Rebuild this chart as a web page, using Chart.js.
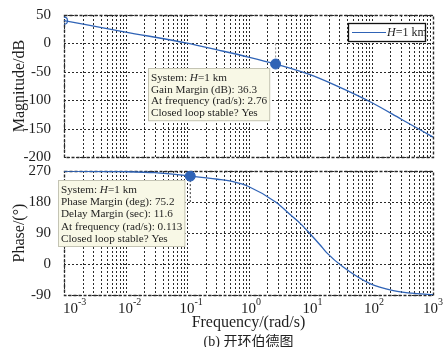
<!DOCTYPE html>
<html>
<head>
<meta charset="utf-8">
<script src="https://cdn.jsdelivr.net/npm/chart.js@4"></script>
<style>
  body { margin: 0; background: #fff; }
  #wrap { position: relative; width: 444px; height: 347px; }
  canvas { position: absolute; left: 0; }
  #magChart { top: 0; }
  #phaseChart { top: 165px; }
  #caption {
    position: absolute; left: 64px; width: 369px; top: 330px;
    text-align: center; font: 14px "Liberation Serif", "Noto Sans CJK SC", serif; color: #222;
  }
</style>
</head>
<body>
<div id="wrap">
  <canvas id="magChart" width="444" height="165"></canvas>
  <canvas id="phaseChart" width="444" height="182"></canvas>
  <div id="caption">(b) 开环伯德图</div>
</div>
<script>
// open-loop Bode data, H = 1 km
const magFreq = [0.001, 0.01, 0.1, 0.3, 1, 2.76, 10, 25, 100, 300, 1000];
const magDb = [40, 20, 0.5, -11, -24, -36.3, -55, -73, -104, -133, -165];

const phaseFreq = [0.001, 0.01, 0.03, 0.113, 0.316, 0.562, 1, 2.76, 5.01, 6.92, 10, 14.5, 18.6, 34.7, 94.4, 226, 543, 1000];
const phaseDeg = [269.5, 268, 265, 255.2, 246, 239, 225, 180, 140, 118, 88, 56, 33, -9, -57, -77, -86, -89];

const decades = [-3, -2, -1, 0, 1, 2, 3];
const magTicks = [-200, -150, -100, -50, 0, 50];
const phaseTicks = [-90, 0, 90, 180, 270];

const gainMargin = 36.3;
const gainFreq = 2.76;
const phaseMargin = 75.2;
const delayMargin = 11.6;
const pmFreq = 0.113;

const SERIF = '"Liberation Serif", "Times New Roman", serif';
const BLUE = '#2f63b6';

const pts = (xs, ys) => xs.map((x, i) => ({ x: x, y: ys[i] }));

// dotted grid + dashed frame
const gridLines = {
  id: 'gridLines',
  beforeDatasetsDraw(chart) {
    const { ctx, chartArea: a, scales: { x, y } } = chart;
    ctx.save();
    ctx.strokeStyle = '#2a2a2a';
    ctx.lineWidth = 1;
    const seg = (x1, y1, x2, y2) => { ctx.beginPath(); ctx.moveTo(x1, y1); ctx.lineTo(x2, y2); ctx.stroke(); };
    ctx.setLineDash([2, 2]);
    for (let d = -3; d < 3; d++) {
      for (let k = 1; k < 10; k++) {
        const px = Math.round(x.getPixelForValue(k * Math.pow(10, d))) + 0.5;
        seg(px, a.top, px, a.bottom);
      }
    }
    y.ticks.forEach(t => {
      const py = Math.round(y.getPixelForValue(t.value)) + 0.5;
      seg(a.left, py, a.right, py);
    });
    ctx.setLineDash([3, 2]);
    ctx.lineWidth = 1.4;
    ctx.strokeRect(Math.round(a.left) + 0.5, Math.round(a.top) + 0.5, Math.round(a.right - a.left), Math.round(a.bottom - a.top));
    ctx.restore();
  }
};

// MATLAB-style data tip box with mixed italic text
function drawTip(ctx, x, y, rows, fontSize, lineStep) {
  ctx.save();
  const font = fontSize + 'px ' + SERIF;
  const ifont = 'italic ' + fontSize + 'px ' + SERIF;
  let w = 0;
  rows.forEach(r => {
    let rw = 0;
    r.forEach(s => { ctx.font = s.i ? ifont : font; rw += ctx.measureText(s.t).width; });
    w = Math.max(w, rw);
  });
  const h = rows.length * lineStep + 6;
  ctx.fillStyle = '#f8f8e6';
  ctx.strokeStyle = '#c4c4b4';
  ctx.lineWidth = 1;
  ctx.setLineDash([]);
  ctx.fillRect(x, y, w + 6, h);
  ctx.strokeRect(x + 0.5, y + 0.5, w + 5, h - 1);
  ctx.fillStyle = '#1e1e1e';
  ctx.textBaseline = 'middle';
  rows.forEach((r, i) => {
    let cx = x + 3;
    const cy = y + 3 + lineStep * (i + 0.5) + 1;
    r.forEach(s => {
      ctx.font = s.i ? ifont : font;
      ctx.fillText(s.t, cx, cy);
      cx += ctx.measureText(s.t).width;
    });
  });
  ctx.restore();
}

const sysRow = [{ t: 'System: ' }, { t: 'H', i: true }, { t: '=1 km' }];

const magNotes = {
  id: 'magNotes',
  afterDraw(chart) {
    const { ctx } = chart;
    drawTip(ctx, 148, 68, [
      sysRow,
      [{ t: 'Gain Margin (dB): ' + gainMargin }],
      [{ t: 'At frequency (rad/s): ' + gainFreq }],
      [{ t: 'Closed loop stable? Yes' }]
    ], 11.2, 11.8);

    // legend
    ctx.save();
    ctx.fillStyle = '#fff';
    ctx.fillRect(348, 23, 78, 19);
    ctx.strokeStyle = '#111';
    ctx.lineWidth = 1.3;
    ctx.strokeRect(348.5, 23.5, 77, 18);
    ctx.strokeStyle = BLUE;
    ctx.lineWidth = 1.2;
    ctx.beginPath(); ctx.moveTo(352, 32.5); ctx.lineTo(386, 32.5); ctx.stroke();
    ctx.fillStyle = '#1e1e1e';
    ctx.textBaseline = 'middle';
    ctx.font = 'italic 12px ' + SERIF;
    ctx.fillText('H', 387, 33);
    const hw = ctx.measureText('H').width;
    ctx.font = '12px ' + SERIF;
    ctx.fillText('=1 km', 387 + hw, 33);
    ctx.restore();
  }
};

const phaseNotes = {
  id: 'phaseNotes',
  afterDraw(chart) {
    const { ctx, scales: { x } } = chart;
    drawTip(ctx, 58, 15, [
      sysRow,
      [{ t: 'Phase Margin (deg): ' + phaseMargin }],
      [{ t: 'Delay Margin (sec): ' + delayMargin }],
      [{ t: 'At frequency (rad/s): ' + pmFreq }],
      [{ t: 'Closed loop stable? Yes' }]
    ], 11.2, 12.2);

    // decade tick labels with superscript exponents
    ctx.save();
    ctx.fillStyle = '#1e1e1e';
    ctx.textBaseline = 'alphabetic';
    decades.forEach((d, i) => {
      const px = x.getPixelForValue(Math.pow(10, d));
      ctx.font = '15px ' + SERIF;
      const bw = ctx.measureText('10').width;
      ctx.font = '10px ' + SERIF;
      const ew = ctx.measureText(String(d)).width;
      let left = px - bw / 2;
      if (i === 0) left = px - 1;
      if (i === decades.length - 1) left = Math.min(left, 443 - bw - ew);
      ctx.font = '15px ' + SERIF;
      ctx.fillText('10', left, 148);
      ctx.font = '10px ' + SERIF;
      ctx.fillText(String(d), left + bw, 140);
    });
    ctx.restore();
  }
};

const yAxis = (min, max, step, title) => ({
  min: min, max: max,
  afterFit(s) { s.width = 64; s.paddingTop = 0; s.paddingBottom = 0; },
  grid: { display: false },
  border: { display: false },
  ticks: { stepSize: step, padding: 5, color: '#1e1e1e', font: { family: SERIF, size: 15 } },
  title: { display: true, text: title, color: '#1e1e1e', font: { family: SERIF, size: 16 }, padding: { top: 10, bottom: 0 } }
});

new Chart(document.getElementById('magChart'), {
  type: 'scatter',
  data: {
    datasets: [
      {
        data: [{ x: gainFreq, y: -gainMargin }],
        pointRadius: 5, pointBackgroundColor: BLUE, pointBorderColor: BLUE
      },
      {
        data: [{ x: magFreq[0], y: magDb[0] }],
        pointRadius: 3.5, pointBackgroundColor: 'rgba(0,0,0,0)', pointBorderColor: BLUE, pointBorderWidth: 1.2
      },
      {
        data: pts(magFreq, magDb),
        showLine: true, pointRadius: 0, borderColor: BLUE, borderWidth: 1.3,
        cubicInterpolationMode: 'monotone'
      },
      {
        data: [{ x: gainFreq, y: 0 }, { x: gainFreq, y: -gainMargin }],
        showLine: true, pointRadius: 0, borderColor: '#8a8a8a', borderWidth: 1, borderDash: [2, 2]
      }
    ]
  },
  options: {
    responsive: false,
    animation: false,
    devicePixelRatio: 1,
    layout: { padding: { top: 15, right: 11, bottom: 8, left: 0 } },
    plugins: { legend: { display: false }, tooltip: { enabled: false } },
    scales: {
      x: { type: 'logarithmic', min: 0.001, max: 1000, display: false },
      y: yAxis(magTicks[0], magTicks[magTicks.length - 1], 50, 'Magnitude/dB')
    }
  },
  plugins: [gridLines, magNotes]
});

new Chart(document.getElementById('phaseChart'), {
  type: 'scatter',
  data: {
    datasets: [
      {
        data: [{ x: pmFreq, y: 180 + phaseMargin }],
        pointRadius: 5, pointBackgroundColor: BLUE, pointBorderColor: BLUE
      },
      {
        data: pts(phaseFreq, phaseDeg),
        showLine: true, pointRadius: 0, borderColor: BLUE, borderWidth: 1.3,
        cubicInterpolationMode: 'monotone'
      },
      {
        data: [{ x: pmFreq, y: 180 + phaseMargin }, { x: pmFreq, y: 180 }],
        showLine: true, pointRadius: 0, borderColor: '#333', borderWidth: 1, borderDash: [2, 2]
      }
    ]
  },
  options: {
    responsive: false,
    animation: false,
    devicePixelRatio: 1,
    layout: { padding: { top: 6, right: 11, bottom: 0, left: 0 } },
    plugins: { legend: { display: false }, tooltip: { enabled: false } },
    scales: {
      x: {
        type: 'logarithmic', min: 0.001, max: 1000,
        afterFit(s) { s.height = 52; },
        grid: { display: false },
        border: { display: false },
        ticks: { display: false },
        title: { display: true, text: 'Frequency/(rad/s)', color: '#1e1e1e', font: { family: SERIF, size: 16 }, padding: { top: 0, bottom: 15 } }
      },
      y: yAxis(phaseTicks[0], phaseTicks[phaseTicks.length - 1], 90, 'Phase/(°)')
    }
  },
  plugins: [gridLines, phaseNotes]
});
</script>
</body>
</html>
